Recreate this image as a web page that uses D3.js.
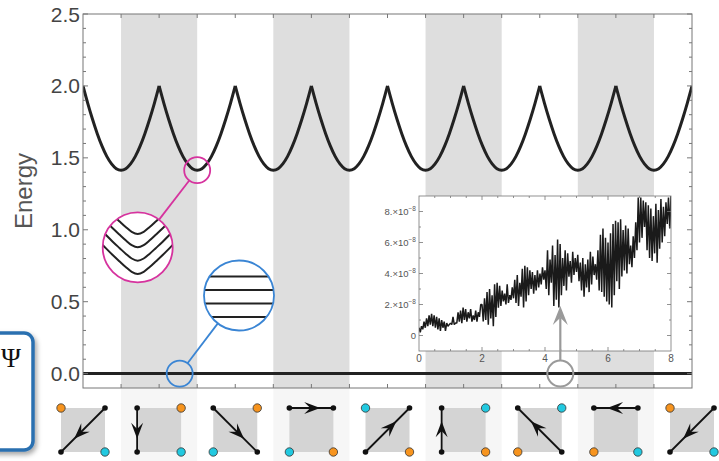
<!DOCTYPE html>
<html><head><meta charset="utf-8">
<script src="https://cdn.jsdelivr.net/npm/d3@7"></script>
<style>body{margin:0;background:#fff}svg{display:block}</style>
</head><body>
<script>
const W = 719, H = 461;

// Lowest band: one period, peak to peak (phase in period units, energy)
const bandPhase  = [0, 0.0625, 0.125, 0.1875, 0.25, 0.3125, 0.375, 0.4375, 0.5,
                    0.5625, 0.625, 0.6875, 0.75, 0.8125, 0.875, 0.9375, 1];
const bandEnergy = [2.0, 1.879, 1.768, 1.668, 1.581, 1.510, 1.458, 1.425, 1.414,
                    1.425, 1.458, 1.510, 1.581, 1.668, 1.768, 1.879, 2.0];
const periodStarts = [0, 1, 2, 3, 4, 5, 6, 7];
const groundEnergy = 0;
const shadedStrips = [0.5, 2.5, 4.5, 6.5];   // each one period wide
const yTicks = [0, 0.5, 1, 1.5, 2, 2.5];
const yTickLabels = ["0.0", "0.5", "1.0", "1.5", "2.0", "2.5"];

// Inset: ground-state energy deviation (units of 1e-8), sampled every 0.04
const insetValues = [
  0.5,0.2,0.6,0.4,0.9,0.5,1.1,0.6,1.3,0.7,1.4,0.6,1.3,0.5,1.2,0.4,1.1,0.3,1.0,0.5,0.9,0.3,0.8,0.6,0.7,
  0.8,0.7,1.2,0.7,0.8,0.8,1.5,0.9,1.6,0.8,1.8,1.0,1.7,0.9,1.5,1.1,1.7,0.9,1.3,1.0,1.6,0.9,1.5,1.2,2.0,
  2.0,0.9,2.4,1.0,2.8,0.7,3.0,1.1,2.6,0.6,3.3,1.2,3.4,1.8,3.2,1.9,2.9,2.2,2.7,2.0,3.3,2.1,2.6,2.3,3.1,
  2.4,3.6,2.1,3.9,1.9,3.4,2.5,4.3,1.8,4.5,2.2,4.4,2.6,4.2,3.0,4.1,2.7,3.9,2.9,4.2,3.1,4.0,3.3,4.4,3.6,
  4.2,3.0,5.5,2.6,4.9,3.4,5.8,1.9,5.2,2.3,6.2,1.8,5.9,2.6,5.0,3.2,5.5,2.9,5.3,3.8,4.8,3.4,5.4,3.9,5.0,
  4.1,5.2,3.5,4.7,2.9,5.0,2.5,4.6,3.1,4.9,2.8,5.4,3.3,5.1,3.9,4.6,3.6,5.5,2.9,6.5,2.8,6.9,2.5,6.3,2.2,
  6.0,2.0,6.6,1.8,7.2,2.6,7.4,3.5,7.3,3.0,7.5,3.8,6.8,4.2,7.1,4.0,6.9,4.6,5.8,4.4,6.4,5.0,7.3,5.5,8.9,
  6.0,8.9,6.3,8.7,7.0,8.6,5.5,8.4,5.0,8.2,4.8,7.7,5.3,8.5,4.7,8.1,5.6,8.8,6.0,8.3,6.4,8.6,7.2,8.9,6.9,9.0
];
const insetStep = 0.04;
const insetXTicks = [0, 2, 4, 6, 8];
const insetYTicks = [0, 2, 4, 6, 8];

// Configuration sketches under each band peak: corners TL, TR, BL, BR
const iconPos = [0, 1, 2, 3, 4, 5, 6, 7, 8];
const iconCorners = [
  ["o","k","k","c"], ["k","o","k","c"], ["k","o","c","k"], ["k","k","c","o"], ["c","k","k","o"],
  ["k","c","k","o"], ["k","c","o","k"], ["k","k","o","c"], ["o","k","k","c"]
];
const iconArrows = [
  ["TR","BL"], ["TL","BL"], ["TL","BR"], ["TL","TR"], ["BL","TR"],
  ["BL","TL"], ["BR","TL"], ["TR","TL"], ["TR","BL"]
];

const x = d3.scaleLinear().domain([0, 8]).range([83, 692]);
const y = d3.scaleLinear().domain([-0.1, 2.5]).range([388, 14]);

const svg = d3.select("body").append("svg").attr("width", W).attr("height", H)
  .style("font-family", "'Liberation Sans', Arial, sans-serif");
const defs = svg.append("defs");
defs.append("clipPath").attr("id", "plotClip").append("rect")
  .attr("x", 83).attr("y", 14).attr("width", 609).attr("height", 374);
const sh = defs.append("filter").attr("id", "shadow").attr("x", "-50%").attr("y", "-50%").attr("width", "200%").attr("height", "200%");
sh.append("feDropShadow").attr("dx", 2).attr("dy", 3).attr("stdDeviation", 2.5).attr("flood-color", "#000").attr("flood-opacity", 0.35);

// shaded strips in plot and under the sketches
shadedStrips.forEach(s => {
  svg.append("rect").attr("x", x(s)).attr("y", 14).attr("width", x(s + 1) - x(s)).attr("height", 374).attr("fill", "#dedede");
  svg.append("rect").attr("x", x(s)).attr("y", 388).attr("width", x(s + 1) - x(s)).attr("height", H - 388).attr("fill", "#f6f6f6");
});

const plot = svg.append("g").attr("clip-path", "url(#plotClip)");
const bandLine = d3.line().x(d => x(d[0])).y(d => y(d[1])).curve(d3.curveMonotoneX);
periodStarts.forEach(p => {
  plot.append("path").attr("d", bandLine(bandPhase.map((t, i) => [p + t, bandEnergy[i]])))
    .attr("fill", "none").attr("stroke", "#222").attr("stroke-width", 3);
});
plot.append("line").attr("x1", x(0)).attr("x2", x(8)).attr("y1", y(groundEnergy)).attr("y2", y(groundEnergy))
  .attr("stroke", "#222").attr("stroke-width", 3);

// frame and ticks
const frame = svg.append("g").attr("stroke", "#777").attr("stroke-width", 1);
frame.append("rect").attr("x", 83).attr("y", 14).attr("width", 609).attr("height", 374).attr("fill", "none");
d3.range(0, 26).forEach(i => {
  const v = i / 10, len = (i % 5 === 0) ? 5 : 3;
  frame.append("line").attr("x1", x(0)).attr("x2", x(0) + len).attr("y1", y(v)).attr("y2", y(v));
  frame.append("line").attr("x1", x(8)).attr("x2", x(8) - len).attr("y1", y(v)).attr("y2", y(v));
});
d3.range(1, 16).forEach(i => {
  const v = i / 2;
  frame.append("line").attr("x1", x(v)).attr("x2", x(v)).attr("y1", 14).attr("y2", 18);
  frame.append("line").attr("x1", x(v)).attr("x2", x(v)).attr("y1", 388).attr("y2", 384);
});
yTicks.forEach((v, i) => {
  svg.append("text").attr("x", 80).attr("y", y(v)).attr("dy", "0.36em").attr("text-anchor", "end")
    .attr("font-size", 21).attr("fill", "#444").text(yTickLabels[i]);
});
svg.append("text").attr("transform", "translate(32,191) rotate(-90)").attr("text-anchor", "middle")
  .attr("font-size", 24).attr("fill", "#555").text("Energy");

// inset
const ix = d3.scaleLinear().domain([0, 8]).range([419, 671]);
const iy = d3.scaleLinear().domain([-1, 9]).range([351, 196]);
defs.append("clipPath").attr("id", "insetClip").append("rect")
  .attr("x", 419).attr("y", 196).attr("width", 252).attr("height", 155);
const inset = svg.append("g");
inset.append("rect").attr("x", 419).attr("y", 196).attr("width", 252).attr("height", 155).attr("fill", "#fff");
inset.append("path").attr("clip-path", "url(#insetClip)")
  .attr("d", d3.line().x((d, i) => ix(i * insetStep)).y(d => iy(d))(insetValues))
  .attr("fill", "none").attr("stroke", "#1a1a1a").attr("stroke-width", 1.5).attr("stroke-linejoin", "bevel");
const iframe = inset.append("g").attr("stroke", "#777").attr("stroke-width", 0.8);
iframe.append("rect").attr("x", 419).attr("y", 196).attr("width", 252).attr("height", 155).attr("fill", "none");
d3.range(1, 16).forEach(i => {
  const v = i / 2, len = (i % 4 === 0) ? 4 : 2;
  iframe.append("line").attr("x1", ix(v)).attr("x2", ix(v)).attr("y1", 351).attr("y2", 351 - len);
  iframe.append("line").attr("x1", ix(v)).attr("x2", ix(v)).attr("y1", 196).attr("y2", 196 + len);
});
d3.range(0, 9).forEach(v => {
  const len = (v % 2 === 0) ? 4 : 2;
  iframe.append("line").attr("x1", 419).attr("x2", 419 + len).attr("y1", iy(v)).attr("y2", iy(v));
  iframe.append("line").attr("x1", 671).attr("x2", 671 - len).attr("y1", iy(v)).attr("y2", iy(v));
});
insetXTicks.forEach(v => {
  inset.append("text").attr("x", ix(v)).attr("y", 362).attr("text-anchor", "middle")
    .attr("font-size", 10).attr("fill", "#555").text(v);
});
insetYTicks.forEach(v => {
  const t = inset.append("text").attr("x", 416).attr("y", iy(v)).attr("dy", "0.35em").attr("text-anchor", "end")
    .attr("font-size", 9.5).attr("fill", "#555");
  if (v === 0) { t.text("0"); }
  else {
    t.append("tspan").text(v + ".\u00d710");
    t.append("tspan").attr("font-size", 6.5).attr("dy", -4).text("\u22128");
  }
});

// arrowhead with a notched back, tip at given point, pointing along (ux,uy)
function arrowHead(tx, ty, ux, uy, L, Wd) {
  const nx = -uy, ny = ux;
  const pts = [[tx, ty], [tx - L * ux + Wd * nx, ty - L * uy + Wd * ny],
               [tx - 0.62 * L * ux, ty - 0.62 * L * uy], [tx - L * ux - Wd * nx, ty - L * uy - Wd * ny]];
  return "M" + pts.map(p => p.join(",")).join("L") + "Z";
}

// pointer from the ground-state line up to the inset
const gx = x(6.27), gy = y(0);
svg.append("circle").attr("cx", gx).attr("cy", gy).attr("r", 13).attr("fill", "none").attr("stroke", "#9a9a9a").attr("stroke-width", 2);
svg.append("line").attr("x1", gx).attr("x2", gx).attr("y1", gy - 13).attr("y2", 318).attr("stroke", "#9a9a9a").attr("stroke-width", 2.2);
svg.append("path").attr("d", arrowHead(gx, 306, 0, -1, 19, 7.5)).attr("fill", "#9a9a9a");

// magnifiers
function magnifier(small, big, color, drawInside, id) {
  const dx = big[0] - small[0], dy = big[1] - small[1], d = Math.hypot(dx, dy);
  svg.append("line").attr("x1", small[0] + dx / d * 13).attr("y1", small[1] + dy / d * 13)
    .attr("x2", big[0] - dx / d * 35).attr("y2", big[1] - dy / d * 35).attr("stroke", color).attr("stroke-width", 1.8);
  svg.append("circle").attr("cx", small[0]).attr("cy", small[1]).attr("r", 13).attr("fill", "none").attr("stroke", color).attr("stroke-width", 1.8);
  defs.append("clipPath").attr("id", id).append("circle").attr("cx", big[0]).attr("cy", big[1]).attr("r", 35);
  svg.append("circle").attr("cx", big[0]).attr("cy", big[1]).attr("r", 35).attr("fill", "#fff");
  drawInside(svg.append("g").attr("clip-path", `url(#${id})`), big[0], big[1]);
  svg.append("circle").attr("cx", big[0]).attr("cy", big[1]).attr("r", 35).attr("fill", "none").attr("stroke", color).attr("stroke-width", 1.8);
}
// zoomed band bottoms (offset from center, rise vs distance)
const zoomLevels = [-13.3, 0, 13.4, 26.7];
const zoomProfile = [[-45, 39], [-35, 29], [-25, 19], [-18, 12.5], [-12, 7], [-6, 2.2], [0, 0], [6, 2.2], [12, 7], [18, 12.5], [25, 19], [35, 29], [45, 39]];
const flatLevels = [-19, -5.5, 8, 21.5];
magnifier([x(1.5), y(1.414)], [137.7, 247.3], "#d6339e", (g, cx, cy) => {
  const l = d3.line().curve(d3.curveMonotoneX);
  zoomLevels.forEach(o => g.append("path").attr("d", l(zoomProfile.map(p => [cx + p[0], cy + o - p[1]])))
    .attr("fill", "none").attr("stroke", "#222").attr("stroke-width", 2));
}, "magClip");
magnifier([x(1.27), y(0)], [239, 295.5], "#3a85d4", (g, cx, cy) => {
  flatLevels.forEach(o => g.append("line").attr("x1", cx - 40).attr("x2", cx + 40).attr("y1", cy + o).attr("y2", cy + o)
    .attr("stroke", "#222").attr("stroke-width", 2));
}, "blueClip");

// configuration sketches
const colorOf = { o: "#f7941e", c: "#22c9e0", k: "#111" };
iconPos.forEach((p, i) => {
  const cx = x(p), cy = 430, h = 22;
  const corner = { TL: [cx - h, cy - h], TR: [cx + h, cy - h], BL: [cx - h, cy + h], BR: [cx + h, cy + h] };
  const g = svg.append("g");
  g.append("rect").attr("x", cx - h).attr("y", cy - h).attr("width", 2 * h).attr("height", 2 * h).attr("fill", "#d4d4d4");
  const [a, b] = iconArrows[i].map(k => corner[k]);
  g.append("line").attr("x1", a[0]).attr("y1", a[1]).attr("x2", b[0]).attr("y2", b[1]).attr("stroke", "#111").attr("stroke-width", 1.8);
  const len = Math.hypot(b[0] - a[0], b[1] - a[1]), ux = (b[0] - a[0]) / len, uy = (b[1] - a[1]) / len;
  const f = 0.7;
  g.append("path").attr("d", arrowHead(a[0] + f * (b[0] - a[0]), a[1] + f * (b[1] - a[1]), ux, uy, 16, 6)).attr("fill", "#111");
  ["TL", "TR", "BL", "BR"].forEach((k, j) => {
    const c = iconCorners[i][j], pt = corner[k];
    if (c === "k") g.append("circle").attr("cx", pt[0]).attr("cy", pt[1]).attr("r", 2.8).attr("fill", "#111");
    else g.append("circle").attr("cx", pt[0]).attr("cy", pt[1]).attr("r", 4.2).attr("fill", colorOf[c]).attr("stroke", "#333").attr("stroke-width", 0.8);
  });
});

// state box at the left edge
svg.append("rect").attr("x", -20).attr("y", 333).attr("width", 53).attr("height", 117).attr("rx", 9)
  .attr("fill", "#fff").attr("stroke", "#2b70b0").attr("stroke-width", 3.5).attr("filter", "url(#shadow)");
svg.append("text").attr("x", 1).attr("y", 367).attr("text-anchor", "start")
  .attr("font-family", "'Liberation Serif', 'DejaVu Serif', serif").attr("font-size", 27).attr("fill", "#111").text("\u03a8");
</script>
</body></html>
